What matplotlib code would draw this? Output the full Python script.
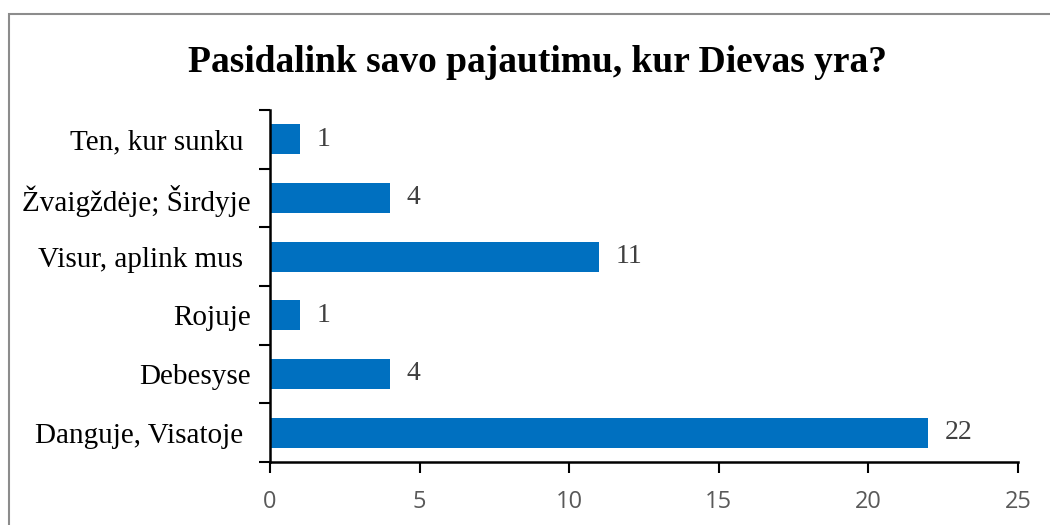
import matplotlib
matplotlib.use("Agg")
import matplotlib.pyplot as plt
from matplotlib.patches import Rectangle
import numpy as np

categories = ["Danguje, Visatoje ", "Debesyse", "Rojuje", "Visur, aplink mus ",
              "Žvaigždėje; Širdyje", "Ten, kur sunku "]
values = [22, 4, 1, 11, 4, 1]
xticks = [0, 5, 10, 15, 20, 25]
title = "Pasidalink savo pajautimu, kur Dievas yra?"

bar_color = "#0070C0"
W, H = 1050, 525
fig = plt.figure(figsize=(10.5, 5.25), dpi=100)
ax = fig.add_axes([270 / W, 1 - 462 / H, (1018 - 270) / W, (462 - 110) / H])

y = np.arange(len(categories))
ax.barh(y, values, height=0.51, color=bar_color, zorder=2)
ax.set_xlim(0, 25)
ax.set_ylim(-0.5, len(categories) - 0.5)

for yi, v in zip(y, values):
    ax.text(v + 0.55, yi, str(v), va="center", ha="left", fontsize=20,
            family="Liberation Serif", color="#404040")

ax.set_yticks(y)
ax.set_yticklabels(categories, family="Liberation Serif", fontsize=21, color="black")
ax.tick_params(axis="y", which="major", length=0, pad=14)
ax.set_yticks(np.arange(-0.5, len(categories), 1), minor=True)
ax.tick_params(axis="y", which="minor", length=8, width=1.5, direction="out", color="black")

ax.set_xticks(xticks)
ax.set_xticklabels([str(t) for t in xticks], family="Open Sans", fontsize=17, color="#595959")
ax.tick_params(axis="x", which="major", length=8, width=1.5, direction="out", color="black", pad=12)

for s in ["top", "right"]:
    ax.spines[s].set_visible(False)
for s in ["left", "bottom"]:
    ax.spines[s].set_linewidth(1.8)
    ax.spines[s].set_color("black")

fig.text(0.512, 1 - 62 / H, title, ha="center", va="center", family="Liberation Serif",
         fontweight="bold", fontsize=27, color="black")

border = Rectangle((8.5 / W, -0.1), 1.2, 1 - 14 / H + 0.1, transform=fig.transFigure,
                   fill=False, edgecolor="#8c8c8c", linewidth=1.5, zorder=0)
fig.add_artist(border)

fig.savefig("out.png", dpi=100, facecolor="white")
